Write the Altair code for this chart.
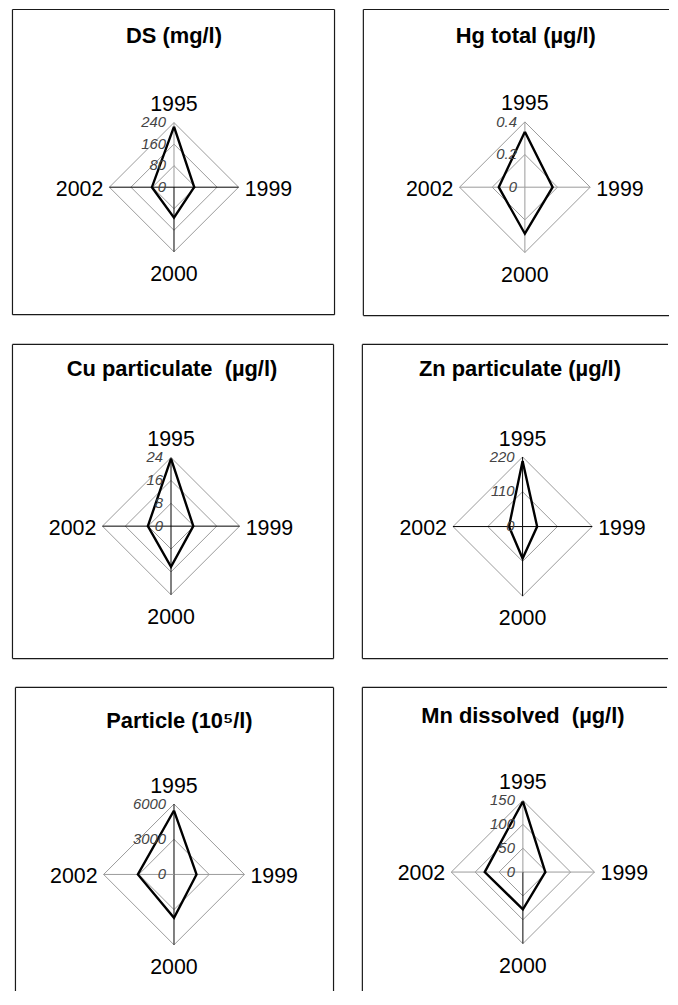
import altair as alt
import pandas as pd

# ---------------- data ----------------
YEARS = ["1995", "1999", "2000", "2002"]

TITLES = [
    "DS (mg/l)",
    "Hg total (µg/l)",
    "Cu particulate \u00a0(µg/l)",
    "Zn particulate (µg/l)",
    "Particle (10⁵/l)",
    "Mn dissolved \u00a0(µg/l)",
]

DS_VALUES = [225, 75, 113, 82]
HG_VALUES = [0.34, 0.17, 0.285, 0.16]
CU_VALUES = [23.6, 7.8, 14.2, 8.1]
ZN_VALUES = [207, 46, 101, 43]
PARTICLE_VALUES = [5450, 1920, 3700, 3080]
MN_VALUES = [148, 47, 78, 80]

DS_TICKS = [0, 80, 160, 240]
HG_TICKS = [0, 0.2, 0.4]
CU_TICKS = [0, 8, 16, 24]
ZN_TICKS = [0, 110, 220]
PARTICLE_TICKS = [0, 3000, 6000]
MN_TICKS = [0, 50, 100, 150]

# ---------------- layout / style ----------------
FONT = "Liberation Sans"
GRID = "#9a9a9a"
BLACK = "#000000"
FRAME = "#1a1a1a"
LABEL_GAP = {"1995": 11.5, "1999": 30, "2000": 29.5, "2002": 30}
LABEL_DY = {"1995": 0, "1999": 8.4, "2000": 0, "2002": 8.4}

W1, W2 = 325, 308
H1, H2, H3 = 309, 317, 306

# frame: left, right (None = cut off), top, bottom (None = cut off)
LAYOUT = [
    dict(w=W1, h=H1, cx=163, cy=179.3, r=65, tx=163, ty=34,
         spokes=[GRID, BLACK, BLACK, BLACK], frame=(0.5, 324.5, 0.5, 307.5)),
    dict(w=W2, h=H1, cx=163, cy=179.3, r=65.7, tx=164, ty=34.3,
         spokes=[GRID, GRID, GRID, GRID], frame=(0.5, None, 0.5, 308.5)),
    dict(w=W1, h=H2, cx=160, cy=183.3, r=69, tx=161, ty=32.7,
         spokes=[BLACK, BLACK, BLACK, BLACK], frame=(0.5, 323.5, 0.5, 316.5)),
    dict(w=W2, h=H2, cx=161.7, cy=183.7, r=70, tx=159, ty=32.7,
         spokes=[BLACK, BLACK, BLACK, BLACK], frame=(0.5, None, 0.5, 316.5)),
    dict(w=W1, h=H3, cx=163, cy=188.7, r=70.8, tx=168.5, ty=41.3,
         spokes=[BLACK, GRID, BLACK, GRID], frame=(3.5, 323.5, 0.5, None)),
    dict(w=W2, h=H3, cx=163, cy=186.3, r=72, tx=163, ty=36.3,
         spokes=[GRID, GRID, BLACK, GRID], frame=(1.5, None, 0.5, None)),
]

ANG = "indexof(['1995','1999','2000','2002'], datum.year) * PI / 2"


def fmt(t):
    return f"{t:g}"


def panel(title, values, ticks, lay):
    m = ticks[-1]
    cx, cy, r = lay["cx"], lay["cy"], lay["r"]
    w, h = lay["w"], lay["h"]
    xs = alt.Scale(domain=[0, w], nice=False, zero=False)
    ys = alt.Scale(domain=[0, h], nice=False, zero=False, reverse=True)

    def X(f):
        return alt.X(f"{f}:Q", scale=xs, axis=None)

    def Y(f):
        return alt.Y(f"{f}:Q", scale=ys, axis=None)

    # frame
    fl, fr, ft, fb = lay["frame"]
    right_end = fr if fr is not None else w
    bottom_end = fb if fb is not None else h
    sides = [
        dict(a=fl, b=ft, c=fl, d=bottom_end),          # left
        dict(a=fl, b=ft, c=right_end, d=ft),           # top
    ]
    if fr is not None:
        sides.append(dict(a=fr, b=ft, c=fr, d=bottom_end))
    if fb is not None:
        sides.append(dict(a=fl, b=fb, c=right_end, d=fb))
    frame = (
        alt.Chart(pd.DataFrame(sides))
        .mark_rule(color=FRAME, strokeWidth=1.2)
        .encode(x=X("a"), y=Y("b"), x2="c:Q", y2="d:Q")
    )

    # rings
    ring_rows = []
    for t in ticks[1:]:
        for k, yr in enumerate(YEARS + YEARS[:1]):
            ring_rows.append({"tick": t, "year": yr, "k": k})
    rings = (
        alt.Chart(pd.DataFrame(ring_rows))
        .transform_calculate(ang=ANG)
        .transform_calculate(
            px=f"{cx} + {r} * datum.tick / {m} * sin(datum.ang)",
            py=f"{cy} - {r} * datum.tick / {m} * cos(datum.ang)",
        )
        .mark_line(color=GRID, strokeWidth=1)
        .encode(x=X("px"), y=Y("py"), detail="tick:N", order="k:Q")
    )

    # spokes
    spoke_df = pd.DataFrame({"year": YEARS, "col": lay["spokes"], "top": [m] * 4})
    spokes = (
        alt.Chart(spoke_df)
        .transform_calculate(ang=ANG)
        .transform_calculate(
            px0=f"{cx}", py0=f"{cy}",
            px1=f"{cx} + {r} * datum.top / {m} * sin(datum.ang)",
            py1=f"{cy} - {r} * datum.top / {m} * cos(datum.ang)",
        )
        .mark_rule(strokeWidth=1)
        .encode(x=X("px0"), y=Y("py0"), x2="px1:Q", y2="py1:Q",
                color=alt.Color("col:N", scale=None))
    )

    # data polygon
    poly_df = pd.DataFrame({
        "year": YEARS + YEARS[:1],
        "value": values + values[:1],
        "k": list(range(5)),
    })
    poly = (
        alt.Chart(poly_df)
        .transform_calculate(ang=ANG)
        .transform_calculate(
            px=f"{cx} + {r} * datum.value / {m} * sin(datum.ang)",
            py=f"{cy} - {r} * datum.value / {m} * cos(datum.ang)",
        )
        .mark_line(color=BLACK, strokeWidth=2.4, strokeJoin="miter")
        .encode(x=X("px"), y=Y("py"), order="k:Q")
    )

    # value tick labels
    tick_df = pd.DataFrame({"tick": ticks, "lab": [fmt(t) for t in ticks]})
    tick_labels = (
        alt.Chart(tick_df)
        .transform_calculate(
            px=f"{cx} - 8",
            py=f"{cy} - {r} * datum.tick / {m} - 0.3",
        )
        .mark_text(font=FONT, fontSize=15, fontStyle="italic", color="#444444",
                   align="right", baseline="middle")
        .encode(x=X("px"), y=Y("py"), text="lab:N")
    )

    # category labels
    cat_df = pd.DataFrame({
        "year": YEARS,
        "gap": [LABEL_GAP[y] for y in YEARS],
        "dy": [LABEL_DY[y] for y in YEARS],
    })
    cats = (
        alt.Chart(cat_df)
        .transform_calculate(ang=ANG)
        .transform_calculate(
            px=f"{cx} + ({r} + datum.gap) * sin(datum.ang)",
            py=f"{cy} - ({r} + datum.gap) * cos(datum.ang) + datum.dy",
        )
        .mark_text(font=FONT, fontSize=21.5, color=BLACK,
                   align="center", baseline="alphabetic")
        .encode(x=X("px"), y=Y("py"), text="year:N")
    )

    # panel title
    ttl = (
        alt.Chart(pd.DataFrame({"title": [title]}))
        .mark_text(font=FONT, fontSize=22, fontWeight="bold", color=BLACK,
                   align="center", baseline="alphabetic")
        .encode(x=alt.value(lay["tx"]), y=alt.value(lay["ty"]), text="title:N")
    )

    return alt.layer(frame, rings, spokes, poly, tick_labels, cats, ttl).properties(
        width=w, height=h
    )


VALUES = [DS_VALUES, HG_VALUES, CU_VALUES, ZN_VALUES, PARTICLE_VALUES, MN_VALUES]
TICKS = [DS_TICKS, HG_TICKS, CU_TICKS, ZN_TICKS, PARTICLE_TICKS, MN_TICKS]

panels = [panel(TITLES[i], VALUES[i], TICKS[i], LAYOUT[i]) for i in range(6)]

rows = [
    alt.hconcat(panels[0], panels[1], spacing=26),
    alt.hconcat(panels[2], panels[3], spacing=26),
    alt.hconcat(panels[4], panels[5], spacing=26),
]

chart = (
    alt.vconcat(*rows, spacing=26)
    .properties(padding={"left": 3, "top": -3, "right": 0, "bottom": 0},
                background="white")
    .configure_view(stroke=None)
)

chart.save("out.html", embed_options={"renderer": "svg", "actions": False})
